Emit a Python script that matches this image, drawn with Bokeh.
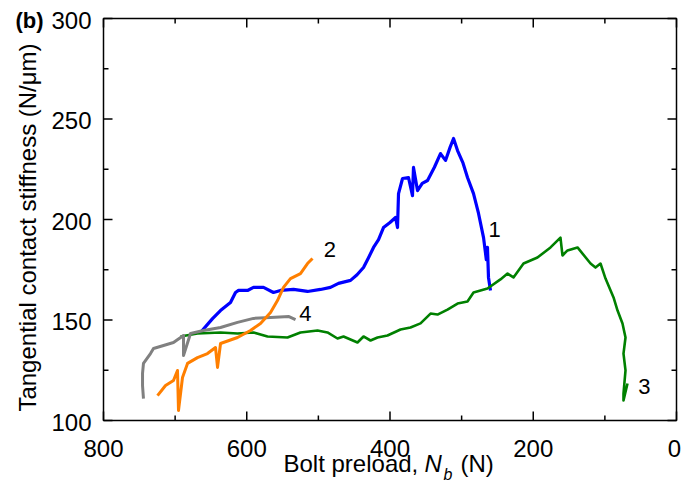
import math
from bokeh.plotting import figure
from bokeh.models import Range1d
from bokeh.core.properties import value
from bokeh.embed import file_html
from bokeh.resources import INLINE

# ---- data ----
c1_x = [664.6, 647.8, 636.7, 622.7, 615.7, 611.5, 598.9, 590.6, 576.6, 562.7, 552.9, 534.7,
        515.2, 497.0, 483.1, 471.9, 455.1, 446.0, 437.0, 430.0, 423.0, 416.0, 409.1, 400.0,
        392.3, 389.5, 388.1, 382.5, 374.2, 368.6, 367.2, 361.6, 355.0, 347.6, 338.0, 329.5,
        322.5, 316.0, 311.3, 305.7, 298.0, 291.8, 283.4, 276.4, 269.4, 265.5, 263.9, 262.5, 259.7]
c1_y = [143.8, 150.7, 154.7, 158.7, 163.7, 164.7, 164.7, 166.2, 166.2, 163.7, 164.7, 165.2,
        164.2, 165.2, 166.2, 168.2, 169.7, 172.5, 176.1, 181.0, 186.1, 190.0, 196.0, 198.5,
        201.0, 196.0, 212.9, 220.4, 220.9, 211.9, 225.9, 214.4, 218.0, 219.4, 226.0, 232.8,
        229.4, 236.0, 240.3, 234.3, 228.0, 220.9, 212.9, 203.0, 191.0, 180.0, 186.1, 171.2, 164.7]

c2_x = [724.6, 713.4, 702.3, 696.7, 695.3, 689.7, 682.7, 668.8, 654.8, 643.6, 640.8, 636.6,
        612.9, 594.8, 580.8, 566.8, 557.1, 548.7, 539.0, 525.0, 515.2, 508.2]
c2_y = [112.4, 117.4, 119.9, 124.9, 105.0, 121.4, 128.4, 131.3, 133.3, 136.3, 126.4, 138.3,
        141.3, 144.8, 148.3, 153.7, 159.7, 166.2, 170.6, 173.1, 178.1, 180.6]

c3_x = [692.5, 668.8, 636.6, 612.9, 590.6, 571.0, 543.1, 525.0, 501.2, 487.3, 473.3, 464.9,
        445.4, 437.0, 427.2, 417.4, 403.5, 385.3, 371.4, 357.4, 343.4, 333.7, 319.7, 305.7,
        291.8, 283.4, 263.9, 245.8, 235.9, 227.6, 213.6, 194.1, 175.9, 162.0, 159.2, 152.2,
        138.2, 120.0, 113.1, 106.1, 99.1, 87.9, 82.3, 75.4, 71.2, 74.0, 71.2, 74.0, 74.0, 68.4]
c3_y = [141.8, 143.3, 143.8, 143.3, 143.8, 141.8, 141.3, 143.8, 144.8, 143.8, 140.8, 141.8,
        138.8, 141.8, 139.8, 141.3, 142.3, 145.3, 146.3, 148.3, 153.2, 152.7, 155.2, 158.2,
        159.2, 163.7, 165.7, 170.2, 173.1, 171.2, 178.1, 181.1, 186.1, 191.0, 182.1, 184.6,
        186.1, 178.1, 176.1, 178.1, 170.6, 161.2, 154.7, 148.3, 141.3, 133.3, 124.9, 113.4, 110.0, 118.4]

c4_x = [744.2, 745.5, 745.5, 744.2, 734.4, 730.2, 716.2, 702.3, 688.3, 688.3, 678.5, 660.4,
        636.6, 612.9, 590.6, 566.8, 541.1, 531.9]
c4_y = [110.9, 117.4, 123.4, 128.4, 133.3, 135.8, 137.3, 138.8, 142.3, 132.3, 143.3, 144.8,
        146.3, 148.8, 150.8, 151.2, 151.7, 150.2]

curve_names = ["1", "2", "3", "4"]
curve_label_x = [254, 484, 45, 518]
curve_label_y = [195, 185, 117, 153]

x_major = [800, 600, 400, 200, 0]
x_minor = [700, 500, 300, 100]
x_tick_labels = ["800", "600", "400", "200", "0"]
y_major = [100, 150, 200, 250, 300]
y_minor = [125, 175, 225, 275]
y_tick_labels = ["100", "150", "200", "250", "300"]

X_HI, X_LO = 800, 0
Y_LO, Y_HI = 100, 300

# ---- layout geometry (pixels) ----
W, H = 681, 484
FL, FR, FT, FB = 103, 676, 18, 420          # visible axes box
kx = (FR - FL) / (X_HI - X_LO)               # px per x unit
ky = (FB - FT) / (Y_HI - Y_LO)               # px per y unit

def px2x(px):
    return X_HI - (px - FL) / kx

def py2y(py):
    return Y_HI - (py - FT) / ky

FONT = "Liberation Sans"
MAJ, MIN = 9, 5

p = figure(width=W, height=H, x_range=Range1d(px2x(0), px2x(W)),
           y_range=Range1d(py2y(H), py2y(0)),
           x_axis_location=None, y_axis_location=None,
           output_backend="svg", toolbar_location=None,
           min_border=0, min_border_left=0, min_border_right=0,
           min_border_top=0, min_border_bottom=0)
p.xgrid.visible = False
p.ygrid.visible = False
p.outline_line_color = None
p.background_fill_color = "white"
p.border_fill_color = "white"

# curves
p.line(c1_x, c1_y, line_color="#0000FF", line_width=3.2, line_join="round")
p.line(c3_x, c3_y, line_color="#008000", line_width=2.6, line_join="round")
p.line(c4_x, c4_y, line_color="#808080", line_width=3, line_join="round")
p.line(c2_x, c2_y, line_color="#FF7F00", line_width=3, line_join="round")

# axes box
p.quad(left=[X_HI], right=[X_LO], bottom=[Y_LO], top=[Y_HI], fill_color=None,
       line_color="black", line_width=1.5)

# ticks (inward, on all four sides)
def ticks_x(vals, length):
    n = len(vals)
    p.segment(x0=vals, y0=[Y_LO] * n, x1=vals, y1=[Y_LO + length / ky] * n,
              line_color="black", line_width=1.5)
    p.segment(x0=vals, y0=[Y_HI] * n, x1=vals, y1=[Y_HI - length / ky] * n,
              line_color="black", line_width=1.5)

def ticks_y(vals, length):
    n = len(vals)
    p.segment(x0=[X_HI] * n, y0=vals, x1=[X_HI - length / kx] * n, y1=vals,
              line_color="black", line_width=1.5)
    p.segment(x0=[X_LO] * n, y0=vals, x1=[X_LO + length / kx] * n, y1=vals,
              line_color="black", line_width=1.5)

ticks_x(x_major, MAJ)
ticks_x(x_minor, MIN)
ticks_y(y_major, MAJ)
ticks_y(y_minor, MIN)

# tick labels (the last x label is nudged so it stays inside the picture)
p.text(x=x_major, y=[py2y(447.5)] * len(x_major), text=x_tick_labels,
       x_offset=[0, 0, 0, 0, -2],
       text_font=value(FONT), text_font_size=value("24px"), text_color="black",
       text_align="center", text_baseline="middle")
p.text(x=[px2x(91)] * len(y_major), y=[v - 1.5 / ky for v in y_major], text=y_tick_labels,
       text_font=value(FONT), text_font_size=value("24px"), text_color="black",
       text_align="right", text_baseline="middle")

# y-axis title
p.text(x=[px2x(27)], y=[py2y(227)], text=["Tangential contact stiffness (N/μm)"],
       angle=math.pi / 2, text_font=value(FONT), text_font_size=value("24px"),
       text_color="black", text_align="center", text_baseline="middle")

# x-axis title: Bolt preload, N_b (N)
def xt(px, py, s, size, style="normal"):
    p.text(x=[px2x(px)], y=[py2y(py)], text=[s], text_font=value(FONT),
           text_font_size=value(size), text_font_style=style, text_color="black",
           text_align="left", text_baseline="middle")

xt(283, 463, "Bolt preload,", "24px")
xt(424, 463, "N", "24px", "italic")
xt(443, 474, "b", "16px", "italic")
xt(460, 463, "(N)", "24px")

# panel tag
p.text(x=[px2x(15)], y=[py2y(20)], text=["(b)"], text_font=value(FONT),
       text_font_size=value("22px"), text_font_style="bold", text_color="black",
       text_align="left", text_baseline="middle")

# curve labels
p.text(x=curve_label_x, y=curve_label_y, text=curve_names, text_font=value(FONT),
       text_font_size=value("22px"), text_color="black", text_align="center",
       text_baseline="middle")

open("out.html", "w").write(file_html(p, INLINE))
